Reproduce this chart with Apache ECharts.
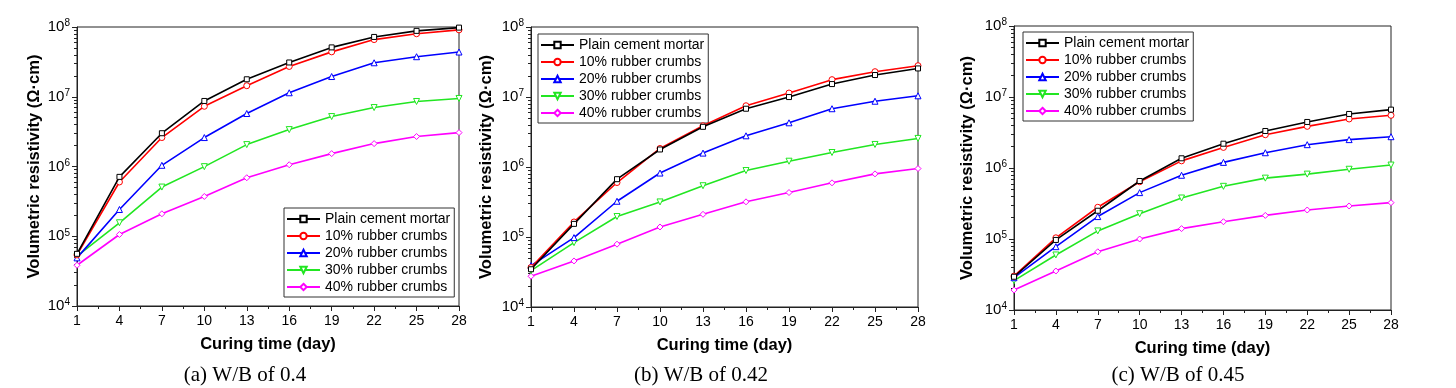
<!DOCTYPE html>
<html lang="en">
<head>
    <meta charset="utf-8"/>
    <script src="https://cdn.jsdelivr.net/npm/echarts@6/dist/echarts.min.js"></script>
</head>
<body style="margin: 0; background: #fff">
<div id="container" style="width: 1456px; height: 388px;"></div>
<script type="text/javascript">
    // curing days (x axis)
    var days = [1, 4, 7, 10, 13, 16, 19, 22, 25, 28];
    var seriesNames = ['Plain cement mortar', '10% rubber crumbs', '20% rubber crumbs', '30% rubber crumbs', '40% rubber crumbs'];
    var yTicks = [1e4, 1e5, 1e6, 1e7, 1e8];

    // (a) W/B 0.4
    var a_plain = [5.6e4, 7.1e5, 3.0e6, 8.7e6, 1.78e7, 3.1e7, 5.1e7, 7.2e7, 8.8e7, 9.8e7];
    var a_r10 = [5.4e4, 6.0e5, 2.6e6, 7.3e6, 1.44e7, 2.72e7, 4.4e7, 6.6e7, 8.0e7, 9.1e7];
    var a_r20 = [4.9e4, 2.42e5, 1.04e6, 2.6e6, 5.75e6, 1.14e7, 1.95e7, 3.07e7, 3.75e7, 4.38e7];
    var a_r30 = [5.2e4, 1.56e5, 5.07e5, 9.95e5, 2.06e6, 3.38e6, 5.2e6, 7.0e6, 8.55e6, 9.45e6];
    var a_r40 = [3.84e4, 1.06e5, 2.1e5, 3.72e5, 6.9e5, 1.06e6, 1.53e6, 2.13e6, 2.69e6, 3.06e6];

    // (b) W/B 0.42
    var b_plain = [3.46e4, 1.54e5, 6.7e5, 1.78e6, 3.75e6, 6.8e6, 9.98e6, 1.53e7, 2.06e7, 2.56e7];
    var b_r10 = [3.66e4, 1.64e5, 6.0e5, 1.84e6, 3.88e6, 7.5e6, 1.14e7, 1.77e7, 2.3e7, 2.8e7];
    var b_r20 = [3.9e4, 9.8e4, 3.24e5, 8.2e5, 1.58e6, 2.79e6, 4.28e6, 6.8e6, 8.7e6, 1.04e7];
    var b_r30 = [3.3e4, 8.3e4, 1.96e5, 3.17e5, 5.4e5, 8.9e5, 1.21e6, 1.61e6, 2.1e6, 2.56e6];
    var b_r40 = [2.75e4, 4.55e4, 7.9e4, 1.39e5, 2.11e5, 3.18e5, 4.32e5, 5.94e5, 7.98e5, 9.5e5];

    // (c) W/B 0.45
    var c_plain = [2.94e4, 9.7e4, 2.5e5, 6.56e5, 1.37e6, 2.2e6, 3.32e6, 4.45e6, 5.77e6, 6.64e6];
    var c_r10 = [3.0e4, 1.04e5, 2.8e5, 6.4e5, 1.26e6, 1.95e6, 2.94e6, 3.86e6, 4.9e6, 5.52e6];
    var c_r20 = [2.85e4, 7.8e4, 2.07e5, 4.5e5, 7.9e5, 1.2e6, 1.64e6, 2.13e6, 2.51e6, 2.76e6];
    var c_r30 = [2.59e4, 5.96e4, 1.3e5, 2.27e5, 3.78e5, 5.52e5, 7.2e5, 8.2e5, 9.6e5, 1.1e6];
    var c_r40 = [1.91e4, 3.54e4, 6.6e4, 1.0e5, 1.4e5, 1.75e5, 2.15e5, 2.56e5, 2.92e5, 3.25e5];

    var panels = [
        [a_plain, a_r10, a_r20, a_r30, a_r40],
        [b_plain, b_r10, b_r20, b_r30, b_r40],
        [c_plain, c_r10, c_r20, c_r30, c_r40]
    ];
    var captions = ['(a) W/B of 0.4', '(b) W/B of 0.42', '(c) W/B of 0.45'];

    var colors = ['#000000', '#ff0000', '#0000ff', '#22e622', '#ff00ff'];
    var symbols = ['rect', 'circle', 'triangle', 'triangle', 'diamond'];
    var rotates = [0, 0, 0, 180, 0];

    var grids = [
        {left: 77, top: 27, width: 382, height: 279},
        {left: 531, top: 27, width: 387, height: 280},
        {left: 1014, top: 26, width: 377, height: 284}
    ];
    var yNameGaps = [34, 36, 38];
    var legendPos = [[284, 208], [538, 34], [1023, 32]];
    var captionX = [245, 701, 1178];

    // log minor tick positions 2..9 x 10^n
    var minorVals = [];
    for (var d = 4; d < 8; d++) {
        for (var m = 2; m < 10; m++) minorVals.push(m * Math.pow(10, d));
    }

    var font = '"Liberation Sans", Arial, sans-serif';
    var axisColor = '#222';

    var option = {
        animation: false,
        textStyle: {fontFamily: font, color: '#000'},
        grid: [], xAxis: [], yAxis: [], legend: [], series: [], graphic: []
    };

    grids.forEach(function (g, i) {
        option.grid.push({
            left: g.left, top: g.top, width: g.width, height: g.height,
            show: true, borderColor: axisColor, borderWidth: 1, backgroundColor: 'transparent'
        });
        option.xAxis.push({
            type: 'value', gridIndex: i, min: 1, max: 28, interval: 3,
            name: 'Curing time (day)', nameLocation: 'middle', nameGap: 30,
            nameTextStyle: {fontSize: 16.5, fontWeight: 'bold', color: '#000', fontFamily: font},
            axisLine: {lineStyle: {color: axisColor, width: 1}},
            axisTick: {length: 5, lineStyle: {color: axisColor}},
            minorTick: {show: true, splitNumber: 2, length: 3, lineStyle: {color: axisColor}},
            axisLabel: {fontSize: 14, color: '#000', margin: 8, fontFamily: font},
            splitLine: {show: false}
        });
        option.yAxis.push({
            type: 'log', logBase: 10, gridIndex: i, min: 1e4, max: 1e8, position: 'left',
            name: 'Volumetric resistivity (Ω·cm)', nameLocation: 'middle', nameGap: yNameGaps[i],
            nameTextStyle: {fontSize: 16.5, fontWeight: 'bold', color: '#000', fontFamily: font},
            axisLine: {show: true, lineStyle: {color: axisColor, width: 1}},
            axisTick: {show: true, length: 5, lineStyle: {color: axisColor}, customValues: yTicks},
            axisLabel: {
                margin: 7, fontSize: 15, color: '#000', fontFamily: font, customValues: yTicks,
                formatter: function (v) {
                    return '{b|10}{s|' + Math.round(Math.log10(v)) + '}';
                },
                rich: {
                    b: {fontSize: 15, lineHeight: 17, color: '#000', fontFamily: font},
                    s: {fontSize: 10, verticalAlign: 'top', lineHeight: 17, color: '#000', fontFamily: font}
                }
            },
            splitLine: {show: false}
        });
        // overlay axis for the log minor ticks
        option.yAxis.push({
            type: 'log', logBase: 10, gridIndex: i, min: 1e4, max: 1e8, position: 'left', offset: 0,
            axisLine: {show: false},
            axisTick: {show: true, length: 3, lineStyle: {color: axisColor}, customValues: minorVals},
            axisLabel: {show: false},
            splitLine: {show: false}
        });
        option.legend.push({
            data: seriesNames, orient: 'vertical',
            left: legendPos[i][0], top: legendPos[i][1],
            itemWidth: 33, itemHeight: 8, itemGap: 3,
            padding: [4, 4, 3, 2],
            borderColor: '#333', borderWidth: 1,
            textStyle: {fontSize: 14, color: '#000', fontFamily: font},
            selectedMode: false
        });
        panels[i].forEach(function (vals, k) {
            option.series.push({
                type: 'line', name: seriesNames[k],
                xAxisIndex: i, yAxisIndex: i * 2,
                data: days.map(function (d, j) { return [d, vals[j]]; }),
                symbol: symbols[k], symbolSize: k === 0 ? 5 : 6, symbolRotate: rotates[k],
                lineStyle: {color: colors[k], width: 1.6},
                itemStyle: {color: '#fff', borderColor: colors[k], borderWidth: 1},
                emphasis: {disabled: true},
                z: 10 - k
            });
        });
        option.graphic.push({
            type: 'text', x: captionX[i], y: 375,
            style: {
                text: captions[i], fontSize: 21, fontFamily: '"Liberation Serif", "Times New Roman", serif',
                fill: '#000', textAlign: 'center', textVerticalAlign: 'middle', align: 'center', verticalAlign: 'middle'
            }
        });
    });

    var myChart = echarts.init(document.getElementById('container'));
    myChart.setOption(option);
</script>
</body>
</html>
